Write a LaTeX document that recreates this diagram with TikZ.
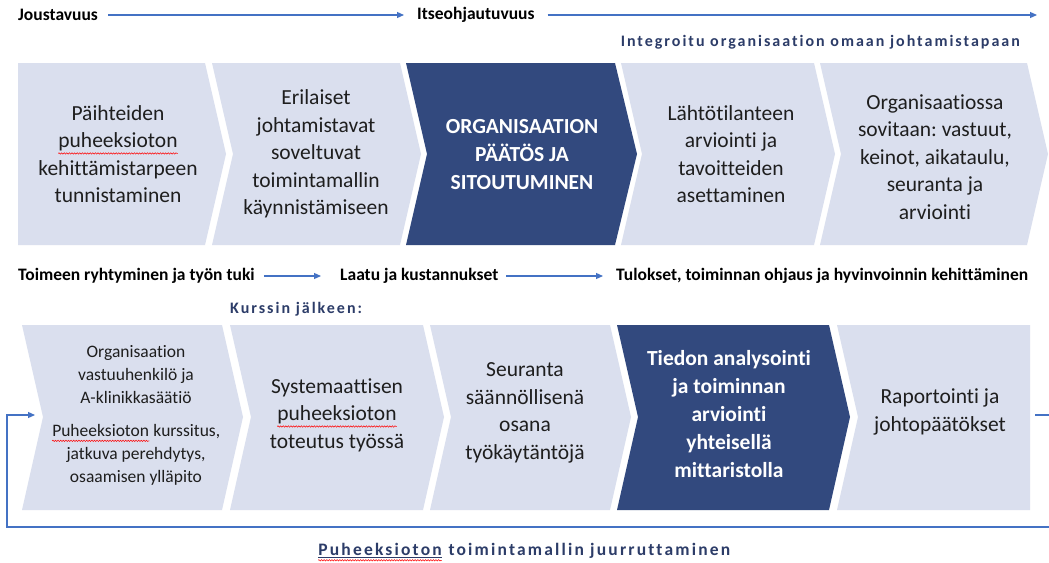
\documentclass[tikz,border=0pt]{standalone}
\usepackage{fontspec}
\setmainfont[Ligatures=NoCommon]{Carlito}
\newfontfamily\spacedfont[LetterSpace=12.5,Ligatures=NoCommon]{Carlito}
\usetikzlibrary{arrows.meta, decorations.pathmorphing}
\frenchspacing

\definecolor{stagebg}{RGB}{218,223,238}
\definecolor{stagedark}{RGB}{50,73,126}
\definecolor{lineblue}{RGB}{68,114,196}
\definecolor{headblue}{RGB}{44,60,104}
\definecolor{textgray}{RGB}{30,30,30}

% red wavy underline of the spell checker
\tikzset{wavy/.style={red, line width=0.5pt, decorate, decoration={snake, amplitude=0.7pt, segment length=2.6pt}}}
\newcommand{\spell}[1]{\tikz[baseline=(w.base)]{\node[inner sep=0pt] (w) {#1};
  \draw[wavy] ([yshift=-0.27em]w.base west) -- ([yshift=-0.27em]w.base east);}}
\newcommand{\spellu}[1]{\tikz[baseline=(w.base)]{\node[inner sep=0pt] (w) {#1};
  \draw[headblue, line width=0.8pt] ([yshift=-0.12em]w.base west) -- ([yshift=-0.12em]w.base east);
  \draw[wavy] ([yshift=-0.3em]w.base west) -- ([yshift=-0.3em]w.base east);}}

\tikzset{
  stage/.style={fill=stagebg},
  keystage/.style={fill=stagedark},
  stagetext/.style={align=center, text=textgray, font=\fontsize{21.5}{27.5}\selectfont},
  smalltext/.style={align=center, text=textgray, font=\fontsize{17.5}{23}\selectfont},
  keytext/.style={align=center, text=white, font=\bfseries\fontsize{21.5}{28}\selectfont},
  phase/.style={font=\bfseries\fontsize{17.5}{20}\selectfont, text=black, inner sep=0pt},
  caption/.style={font=\spacedfont\bfseries\fontsize{16}{18}\selectfont, text=headblue, inner sep=0pt},
  flow/.style={draw=lineblue, line width=1.2pt, -{Triangle[length=7pt,width=6pt]}},
}

\begin{document}
\begin{tikzpicture}[x=1pt,y=-1pt]
    \useasboundingbox[fill=white] (0,0) rectangle (1049,562);

    % upper row
    \fill[stage] (18,63) -- (205,63) -- (226,154) -- (205,245) -- (18,245) -- cycle;
    \fill[stage] (212,63) -- (400,63) -- (421,154) -- (400,245) -- (212,245) -- (233,154) -- cycle;
    \fill[keystage] (406,63) -- (615,63) -- (637,154) -- (615,245) -- (406,245) -- (427,154) -- cycle;
    \fill[stage] (621,63) -- (814,63) -- (835,154) -- (814,245) -- (621,245) -- (642,154) -- cycle;
    \fill[stage] (820,63) -- (1027,63) -- (1048,154) -- (1027,245) -- (820,245) -- (841,154) -- cycle;

    \node[stagetext] (tunnistus) at (118,154) {Päihteiden\\\spell{puheeksioton}\\kehittämistarpeen\\tunnistaminen};
    \node[stagetext] (kaynnistys) at (316,154) {Erilaiset\\johtamistavat\\soveltuvat\\toimintamallin\\käynnistämiseen};
    \node[keytext] (paatos) at (522,155) {ORGANISAATION\\PÄÄTÖS JA\\SITOUTUMINEN};
    \node[stagetext] (lahto) at (731,154) {Lähtötilanteen\\arviointi ja\\tavoitteiden\\asettaminen};
    \node[stagetext] (sopimus) at (935,157) {Organisaatiossa\\sovitaan: vastuut,\\keinot, aikataulu,\\seuranta ja\\arviointi};

    % lower row
    \fill[stage] (22,325) -- (222,325) -- (243,417) -- (222,510) -- (22,510) -- (43,417) -- cycle;
    \fill[stage] (230,325) -- (423,325) -- (444,417) -- (423,510) -- (230,510) -- (251,417) -- cycle;
    \fill[stage] (430,325) -- (610,325) -- (631,417) -- (610,510) -- (430,510) -- (451,417) -- cycle;
    \fill[keystage] (617,325) -- (829,325) -- (850,417) -- (829,510) -- (617,510) -- (638,417) -- cycle;
    \fill[stage] (837,325) -- (1030,325) -- (1030,510) -- (837,510) -- (858,417) -- cycle;

    \node[smalltext] (koulutus) at (136,415) {Organisaation\\vastuuhenkilö ja\\A-klinikkasäätiö\\[10pt]\spell{Puheeksioton} kurssitus,\\jatkuva perehdytys,\\osaamisen ylläpito};
    \node[stagetext] (toteutus) at (337,415) {Systemaattisen\\\spell{puheeksioton}\\toteutus työssä};
    \node[stagetext] (seuranta) at (525,413) {Seuranta\\säännöllisenä\\osana\\työkäytäntöjä};
    \node[keytext] (analyysi) at (729,414) {Tiedon analysointi\\ja toiminnan\\arviointi\\yhteisellä\\mittaristolla};
    \node[stagetext] (raportti) at (940,412) {Raportointi ja\\johtopäätökset};

    % phases
    \node[phase, anchor=west] (jousto) at (18,15) {Joustavuus};
    \node[phase, anchor=west] (itse) at (417,15) {Itseohjautuvuus};
    \coordinate (topend) at (1037,15);
    \node[caption, anchor=east] (integ) at (1020,42) {Integroitu organisaation omaan johtamistapaan};

    \node[phase, anchor=west] (toimeen) at (18,276) {Toimeen ryhtyminen ja työn tuki};
    \node[phase, anchor=west] (laatu) at (340,276) {Laatu ja kustannukset};
    \node[phase, anchor=west] (tulos) at (616,276) {Tulokset, toiminnan ohjaus ja hyvinvoinnin kehittäminen};
    \node[caption, anchor=west] (kurssi) at (230,309) {Kurssin jälkeen:};

    \node[caption, font=\spacedfont\bfseries\fontsize{17.5}{20}\selectfont] (juurrutus) at (524,552) {\spellu{Puheeksioton} toimintamallin juurruttaminen};

    \draw[flow] ([xshift=10pt]jousto.east) -- ([xshift=-13pt]itse.west);
    \draw[flow] ([xshift=13pt]itse.east) -- (topend);
    \draw[flow] ([xshift=9pt]toimeen.east) -- ([xshift=-19pt]laatu.west);
    \draw[flow] ([xshift=8pt]laatu.east) -- ([xshift=-13pt]tulos.west);

    % feedback loop
    \coordinate (loopout) at (1035,415);
    \coordinate (loopin) at (35,415);
    \draw[flow] (loopout) -- ++(44,0) |- (7,527) |- (loopin);
\end{tikzpicture}
\end{document}
